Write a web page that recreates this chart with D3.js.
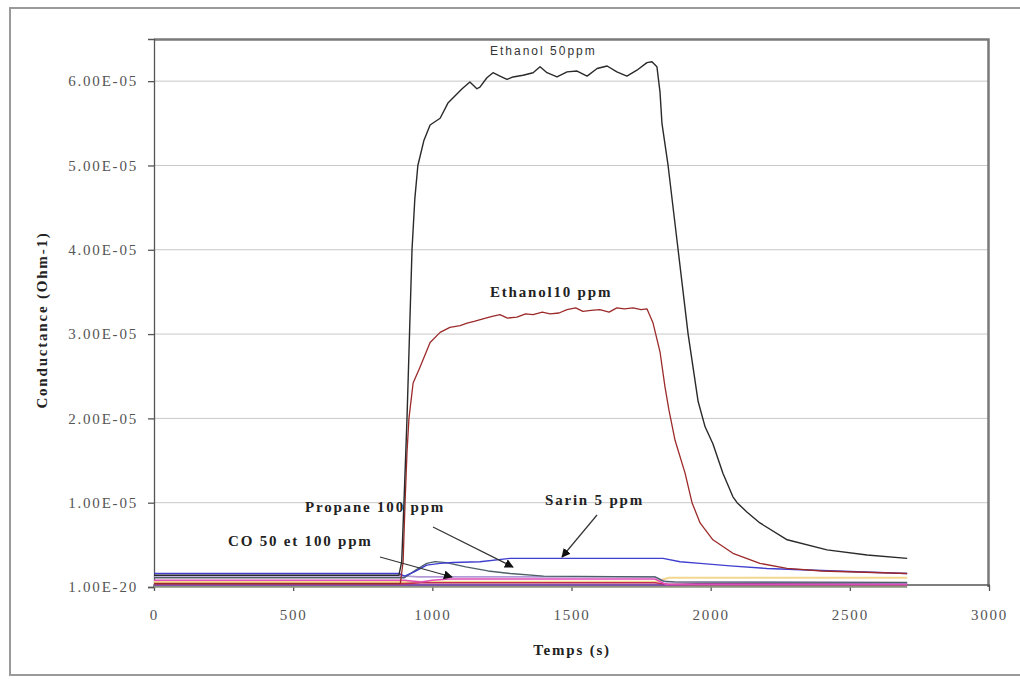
<!DOCTYPE html>
<html>
<head>
<meta charset="utf-8">
<script src="https://cdn.jsdelivr.net/npm/d3@7"></script>
<style>
  body { margin: 0; background: #fff; }
  svg { display: block; }
</style>
</head>
<body>
<div id="chart"></div>
<script>
// values in 1e-6 Ohm-1, time in s
const ethanol50 = [[0,1.4],[880,1.4],[890,3],[898,10],[909,20],[918,30],[927,40],[937,46],[948,50],[970,53],[992,54.8],[1028,55.6],[1056,57.4],[1107,59.1],[1135,59.9],[1160,59.1],[1171,59.3],[1196,60.4],[1218,61.0],[1243,60.6],[1268,60.2],[1290,60.5],[1326,60.7],[1362,61.0],[1387,61.7],[1412,61.0],[1448,60.5],[1484,61.1],[1520,61.2],[1556,60.6],[1592,61.5],[1628,61.8],[1663,61.1],[1699,60.6],[1735,61.3],[1771,62.2],[1789,62.3],[1807,61.7],[1818,58.7],[1825,55],[1847,50],[1883,40],[1919,30],[1955,22],[1980,19],[2008,17],[2044,13.5],[2080,10.7],[2095,10],[2130,8.9],[2177,7.6],[2275,5.6],[2418,4.4],[2562,3.8],[2706,3.4]];
const ethanol10 = [[0,0.4],[885,0.4],[895,3],[902,10],[909,16],[916,20],[931,24.2],[956,26.1],[992,29.0],[1028,30.2],[1063,30.8],[1100,31.0],[1125,31.3],[1150,31.5],[1182,31.8],[1215,32.1],[1243,32.3],[1270,31.9],[1304,32.0],[1335,32.4],[1362,32.3],[1395,32.6],[1423,32.4],[1455,32.5],[1484,32.9],[1515,33.1],[1541,32.7],[1570,32.8],[1602,32.9],[1635,32.6],[1663,33.1],[1690,33.0],[1721,33.1],[1750,32.9],[1771,33.0],[1793,31.3],[1818,27.9],[1836,23.7],[1850,21],[1872,17.4],[1908,13.5],[1933,10],[1962,7.6],[2008,5.6],[2080,4.0],[2177,2.8],[2274,2.2],[2400,1.9],[2706,1.6]];
const sarin5 = [[0,1.6],[880,1.6],[900,1.3],[935,1.8],[980,2.6],[1028,2.8],[1074,2.9],[1171,3.0],[1279,3.4],[1829,3.4],[1890,3.0],[1962,2.8],[2070,2.5],[2202,2.2],[2450,1.9],[2706,1.6]];
const propane100 = [[0,1.1],[900,1.1],[940,2.0],[980,2.8],[1010,3.0],[1050,2.9],[1120,2.4],[1200,1.9],[1280,1.6],[1400,1.3],[1520,1.25],[1800,1.2],[1830,0.7],[1870,0.6],[2706,0.55]];
const lavender = [[0,1.3],[900,1.3],[950,1.2],[1800,1.2],[1840,0.6],[2706,0.5]];
const co50 = [[0,0.8],[900,0.8],[960,0.6],[1000,0.8],[1060,0.95],[1800,0.95],[1840,0.3],[2706,0.3]];
const co100 = [[0,0.4],[900,0.4],[960,0.5],[1800,0.5],[1850,0.3],[2706,0.3]];
const yellowRun = [[0,0.6],[1800,0.6],[1850,1.1],[2706,1.1]];
const purpleRun = [[0,0.25],[1850,0.25],[1950,0.35],[2706,0.35]];
const greyRun = [[0,0.05],[2706,0.05]];

const xTicks = [0, 500, 1000, 1500, 2000, 2500, 3000];
const yTicks = [0, 10, 20, 30, 40, 50, 60];
const yTickLabels = ['1.00E-20', '1.00E-05', '2.00E-05', '3.00E-05', '4.00E-05', '5.00E-05', '6.00E-05'];

const W = 1020, H = 679;
const m = {left: 154, top: 39, right: 989, bottom: 587};

const svg = d3.select('#chart').append('svg')
  .attr('width', W).attr('height', H);

// outer frame
svg.append('rect').attr('x', 10).attr('y', 8).attr('width', 1020).attr('height', 667)
  .attr('fill', 'none').attr('stroke', '#9a9a9a').attr('stroke-width', 2);

const x = d3.scaleLinear().domain([0, 3000]).range([m.left, m.right]);
const y = d3.scaleLinear().domain([0, 65]).range([m.bottom, m.top]);

// gridlines
svg.append('g').selectAll('line').data(yTicks.slice(1)).enter().append('line')
  .attr('x1', m.left).attr('x2', m.right)
  .attr('y1', d => y(d)).attr('y2', d => y(d))
  .attr('stroke', '#c8c8c8').attr('stroke-width', 1);

// top and right edges of the plot area
svg.append('path')
  .attr('d', `M${m.left},${m.top + 0.5}L${m.right - 0.5},${m.top + 0.5}L${m.right - 0.5},${m.bottom}`)
  .attr('fill', 'none')
  .style('stroke', '#7a7a7a')
  .style('stroke-width', '2.5px');

const tickFont = '"Liberation Serif", "Times New Roman", serif';

// axes
const yAxis = d3.axisLeft(y).tickValues(yTicks)
  .tickFormat((d, i) => yTickLabels[i]).tickSize(6).tickPadding(10);
const gy = svg.append('g').attr('transform', `translate(${m.left},0)`).call(yAxis);

const xAxis = d3.axisBottom(x).tickValues(xTicks).tickFormat(d3.format('d'))
  .tickSize(6).tickPadding(18);
const gx = svg.append('g').attr('transform', `translate(0,${m.bottom - 2})`).call(xAxis);

[gx, gy].forEach(g => {
  g.select('.domain').attr('stroke', '#555').attr('stroke-width', 1.3);
  g.selectAll('.tick line').attr('stroke', '#555').attr('stroke-width', 1.3);
  g.selectAll('.tick text')
    .attr('font-family', tickFont).attr('font-size', 15)
    .attr('letter-spacing', '1.8px').attr('fill', '#555');
});
gx.select('.domain').attr('d', `M${m.left},2V0H${m.right}V2`);

// series
const line = d3.line().x(d => x(d[0])).y(d => y(d[1]));
const series = [
  {data: greyRun, color: '#8c927e', w: 2.2},
  {data: purpleRun, color: '#7d52a8', w: 2.2},
  {data: yellowRun, color: '#f2d88e', w: 2.2},
  {data: co100, color: '#c22c50', w: 1.6},
  {data: co50, color: '#e04cb8', w: 1.6},
  {data: lavender, color: '#b39ad6', w: 1.6},
  {data: propane100, color: '#4e6068', w: 1.3},
  {data: sarin5, color: '#3f3fd0', w: 1.4},
  {data: ethanol10, color: '#9c2a2a', w: 1.3},
  {data: ethanol50, color: '#2a2a2a', w: 1.4}
];
svg.append('g').selectAll('path').data(series).enter().append('path')
  .attr('d', d => line(d.data))
  .attr('fill', 'none')
  .attr('stroke', d => d.color)
  .attr('stroke-width', d => d.w)
  .attr('stroke-linejoin', 'round');

// annotations
const boldSerif = {family: tickFont, weight: 'bold', size: 15, spacing: '1.8px', fill: '#222'};
function label(txt, tx, ty, opt, anchor) {
  return svg.append('text').text(txt)
    .attr('x', tx).attr('y', ty)
    .attr('text-anchor', anchor || 'start')
    .attr('font-family', opt.family).attr('font-weight', opt.weight)
    .attr('font-size', opt.size).attr('letter-spacing', opt.spacing)
    .attr('fill', opt.fill);
}
label('Ethanol 50ppm', 490, 55,
  {family: '"Liberation Sans", Arial, sans-serif', weight: 'normal', size: 12, spacing: '2px', fill: '#333'});
label('Ethanol10 ppm', 490, 297, boldSerif);
label('Sarin 5 ppm', 545, 505, boldSerif);
label('Propane 100 ppm', 305, 512, boldSerif);
label('CO 50 et 100 ppm', 228, 546, boldSerif);

// arrows
svg.append('defs').append('marker')
  .attr('id', 'head').attr('viewBox', '0 0 10 10')
  .attr('refX', 9).attr('refY', 5)
  .attr('markerWidth', 9).attr('markerHeight', 9)
  .attr('markerUnits', 'userSpaceOnUse')
  .attr('orient', 'auto')
  .append('path').attr('d', 'M0,0L10,5L0,10Z').attr('fill', '#111');

const arrows = [
  [597, 515, 562, 557],
  [433, 527, 513, 567],
  [380, 557, 452, 577]
];
svg.append('g').selectAll('line').data(arrows).enter().append('line')
  .attr('x1', d => d[0]).attr('y1', d => d[1])
  .attr('x2', d => d[2]).attr('y2', d => d[3])
  .attr('stroke', '#333').attr('stroke-width', 1.2)
  .attr('marker-end', 'url(#head)');

// axis titles
label('Temps (s)', 572, 655, boldSerif, 'middle');
label('Conductance (Ohm-1)', 0, 0, boldSerif, 'middle')
  .attr('transform', 'translate(47,320) rotate(-90)');
</script>
</body>
</html>
